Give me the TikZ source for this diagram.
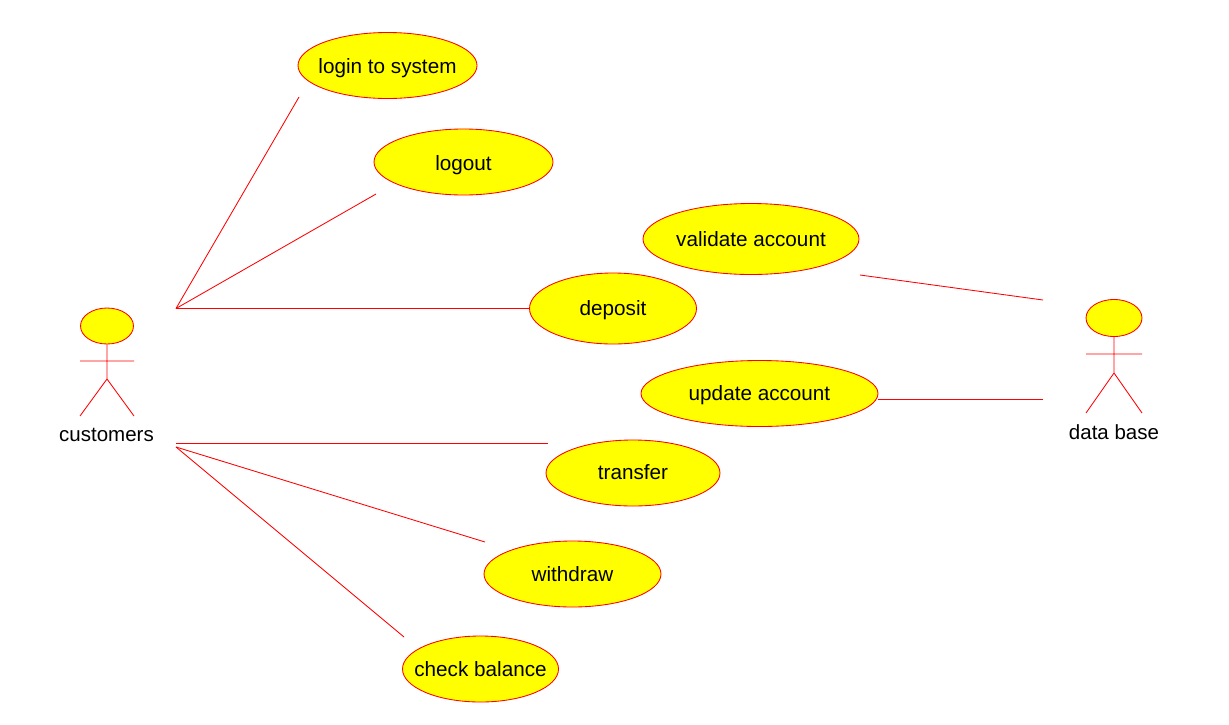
\documentclass[tikz,border=0pt]{standalone}
\usepackage{fontspec}
\setmainfont{Liberation Sans}
\usetikzlibrary{shapes.geometric}
\definecolor{uml}{RGB}{255,0,0}
\definecolor{ucfill}{RGB}{255,255,0}
\tikzset{
 usecase/.style={ellipse,draw=uml,fill=ucfill,line width=0.85pt,inner sep=0pt,text=black,font=\fontsize{20.7}{24}\selectfont},
 actorname/.style={inner sep=0pt,text=black,font=\fontsize{20.5}{24}\selectfont},
 link/.style={draw=uml,line width=0.85pt},
 limb/.style={draw=uml,line width=0.85pt},
 head/.style={ellipse,draw=uml,fill=ucfill,line width=0.85pt,inner sep=0pt}
}
\newcommand{\ucase}[6]{\node[usecase,minimum width=#3pt,minimum height=#4pt] (#1) at (#2) {\makebox[0pt]{\smash{\raisebox{#6pt}{#5}}}};}
\begin{document}
\begin{tikzpicture}[x=1pt,y=-1pt]
\useasboundingbox[fill=white] (0,0) rectangle (1229,724);
\ucase{login}{387.5,65.5}{179}{66}{login to system}{-8.2}
\ucase{logout}{463.5,162}{179}{66}{logout}{-8.2}
\ucase{validate}{751,239}{216}{71}{validate account}{-7.2}
\ucase{deposit}{613,308.5}{167}{71}{deposit}{-7.2}
\ucase{update}{759.5,393.5}{237}{66}{update account}{-7.2}
\ucase{transfer}{633,473}{174}{66}{transfer}{-6.2}
\ucase{withdraw}{572.5,574}{177}{66}{withdraw}{-7.2}
\ucase{check}{480.5,669}{156}{66}{check balance}{-7.2}
% customers actor
\node[head,minimum width=53pt,minimum height=36pt] (h1) at (107,326) {};
\coordinate (w1) at (107,379);
\coordinate (al1) at (80,361);
\coordinate (ar1) at (134,361);
\coordinate (fl1) at (80,416);
\coordinate (fr1) at (134,416);
\draw[limb] (h1.south) -- (w1) (al1) -- (ar1) (w1) -- (fl1) (w1) -- (fr1);
\node[actorname] (customers) at (106.5,435) {customers};
% data base actor
\node[head,minimum width=56pt,minimum height=37pt] (h2) at (1114,318) {};
\coordinate (w2) at (1114,373);
\coordinate (al2) at (1086,354);
\coordinate (ar2) at (1142,354);
\coordinate (fl2) at (1086,413);
\coordinate (fr2) at (1142,413);
\draw[limb] (h2.south) -- (w2) (al2) -- (ar2) (w2) -- (fl2) (w2) -- (fr2);
\node[actorname] (database) at (1114,432) {data base};
% connector ends
\coordinate (c1) at (176,308.5);
\coordinate (c2) at (176,443);
\coordinate (c3) at (176,447);
\coordinate (e1) at (299,97);
\coordinate (e2) at (376,194);
\coordinate (e5) at (548,443);
\coordinate (e6) at (485,542);
\coordinate (e7) at (404,637);
\coordinate (d1) at (860,275);
\coordinate (d2) at (1043,300);
\coordinate (d3) at (1043,399.5);
\draw[link] (c1) -- (e1);
\draw[link] (c1) -- (e2);
\draw[link] (c1) -- (deposit.west);
\draw[link] (c2) -- (e5);
\draw[link] (c3) -- (e6);
\draw[link] (c3) -- (e7);
\draw[link] (d1) -- (d2);
\draw[link] (update.east |- d3) -- (d3);
\end{tikzpicture}
\end{document}
